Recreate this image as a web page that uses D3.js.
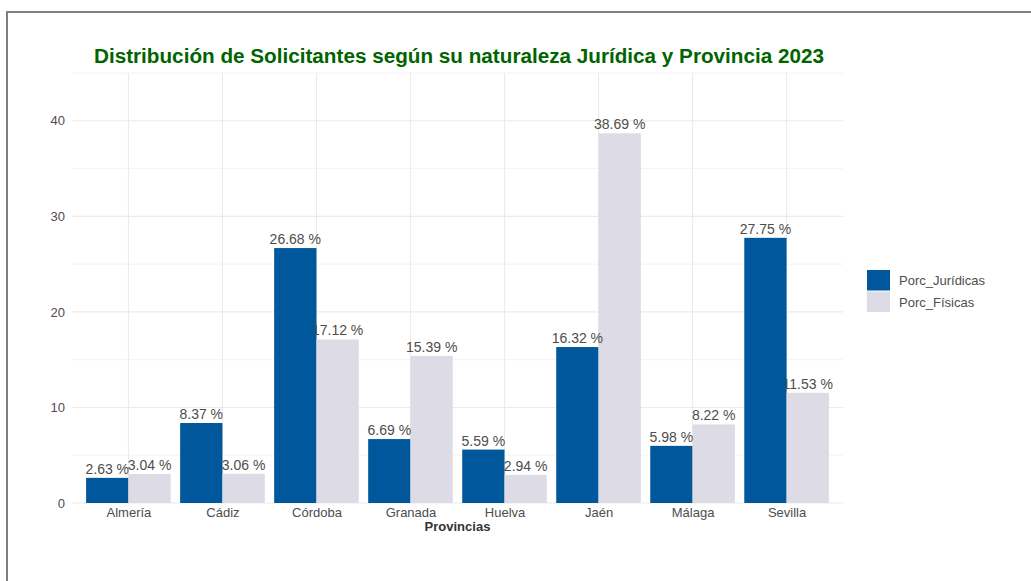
<!DOCTYPE html>
<html>
<head>
<meta charset="utf-8">
<script src="https://cdn.jsdelivr.net/npm/d3@7"></script>
<style>
  body { margin: 0; background: #fff; }
  text { font-family: "Liberation Sans", Arial, sans-serif; }
</style>
</head>
<body>
<svg id="chart" width="1031" height="581"></svg>
<script>
// Datos
const provincias = ["Almería", "Cádiz", "Córdoba", "Granada", "Huelva", "Jaén", "Málaga", "Sevilla"];
const series = ["Porc_Jurídicas", "Porc_Físicas"];
const porcJuridicas = [2.63, 8.37, 26.68, 6.69, 5.59, 16.32, 5.98, 27.75];
const porcFisicas = [3.04, 3.06, 17.12, 15.39, 2.94, 38.69, 8.22, 11.53];
const yTicks = [0, 10, 20, 30, 40];
const yMinor = [5, 15, 25, 35, 45];

const colores = { "Porc_Jurídicas": "#01579b", "Porc_Físicas": "#dddce6" };

const panel = { left: 72, right: 843, top: 73, bottom: 503 };

const svg = d3.select("#chart");

// Marco
svg.append("path")
    .attr("d", "M7,581 L7,12 L1031,12")
    .attr("fill", "none")
    .attr("stroke", "#7f7f7f")
    .attr("stroke-width", 2);

// Escalas
const step = (panel.right - panel.left) / (provincias.length - 1 + 1.2);
const xScale = d3.scalePoint()
    .domain(provincias)
    .range([panel.left + 0.6 * step, panel.right - 0.6 * step]);
const yScale = d3.scaleLinear().domain([0, 45]).range([panel.bottom, panel.top]);
const barW = step * 0.45;

// Rejilla
const grid = svg.append("g");
grid.selectAll(".minor").data(yMinor).enter().append("line")
    .attr("x1", panel.left).attr("x2", panel.right)
    .attr("y1", d => yScale(d)).attr("y2", d => yScale(d))
    .attr("stroke", "#ebebeb").attr("stroke-width", 0.6);
grid.selectAll(".major").data(yTicks).enter().append("line")
    .attr("x1", panel.left).attr("x2", panel.right)
    .attr("y1", d => yScale(d)).attr("y2", d => yScale(d))
    .attr("stroke", "#ebebeb").attr("stroke-width", 1.1);
grid.selectAll(".vert").data(provincias).enter().append("line")
    .attr("x1", d => xScale(d)).attr("x2", d => xScale(d))
    .attr("y1", panel.top).attr("y2", panel.bottom)
    .attr("stroke", "#ebebeb").attr("stroke-width", 1.1);

// Barras
const datos = [];
provincias.forEach((p, i) => {
    datos.push({ prov: p, serie: series[0], valor: porcJuridicas[i], off: -1 });
    datos.push({ prov: p, serie: series[1], valor: porcFisicas[i], off: 0 });
});

svg.append("g").selectAll("rect").data(datos).enter().append("rect")
    .attr("x", d => xScale(d.prov) + d.off * barW)
    .attr("width", barW)
    .attr("y", d => yScale(d.valor))
    .attr("height", d => yScale(0) - yScale(d.valor))
    .attr("fill", d => colores[d.serie]);

svg.append("g").selectAll("text").data(datos).enter().append("text")
    .attr("x", d => xScale(d.prov) + d.off * barW + barW / 2)
    .attr("y", d => yScale(d.valor) - 4)
    .attr("text-anchor", "middle")
    .attr("font-size", 14)
    .attr("fill", "#4d4d4d")
    .text(d => d.valor.toFixed(2) + " %");

// Ejes
const yAxisG = svg.append("g")
    .attr("transform", `translate(${panel.left},0)`)
    .call(d3.axisLeft(yScale).tickValues(yTicks).tickSize(0).tickPadding(7));
yAxisG.select(".domain").remove();
yAxisG.selectAll("text").attr("font-size", 13).attr("fill", "#4d4d4d")
    .style("font-family", "Liberation Sans, Arial, sans-serif");

const xAxisG = svg.append("g")
    .attr("transform", `translate(0,${panel.bottom})`)
    .call(d3.axisBottom(xScale).tickSize(0).tickPadding(5));
xAxisG.select(".domain").remove();
xAxisG.selectAll("text").attr("font-size", 13).attr("fill", "#4d4d4d")
    .style("font-family", "Liberation Sans, Arial, sans-serif");

svg.append("text")
    .attr("x", (panel.left + panel.right) / 2)
    .attr("y", 531)
    .attr("text-anchor", "middle")
    .attr("font-size", 13)
    .attr("font-weight", "bold")
    .attr("fill", "#333")
    .text("Provincias");

// Título
svg.append("text")
    .attr("x", (panel.left + panel.right) / 2 + 1.5)
    .attr("y", 63)
    .attr("text-anchor", "middle")
    .attr("font-size", 20.7)
    .attr("font-weight", "bold")
    .attr("fill", "#006400")
    .text("Distribución de Solicitantes según su naturaleza Jurídica y Provincia 2023");

// Leyenda
const legend = svg.append("g").attr("transform", "translate(867,270)");
series.forEach((s, i) => {
    legend.append("rect")
        .attr("x", 0).attr("y", i * 21.5)
        .attr("width", 23).attr("height", 20.5)
        .attr("fill", colores[s]);
    legend.append("text")
        .attr("x", 32).attr("y", i * 21.5 + 15)
        .attr("font-size", 13)
        .attr("fill", "#4d4d4d")
        .text(s);
});
</script>
</body>
</html>
